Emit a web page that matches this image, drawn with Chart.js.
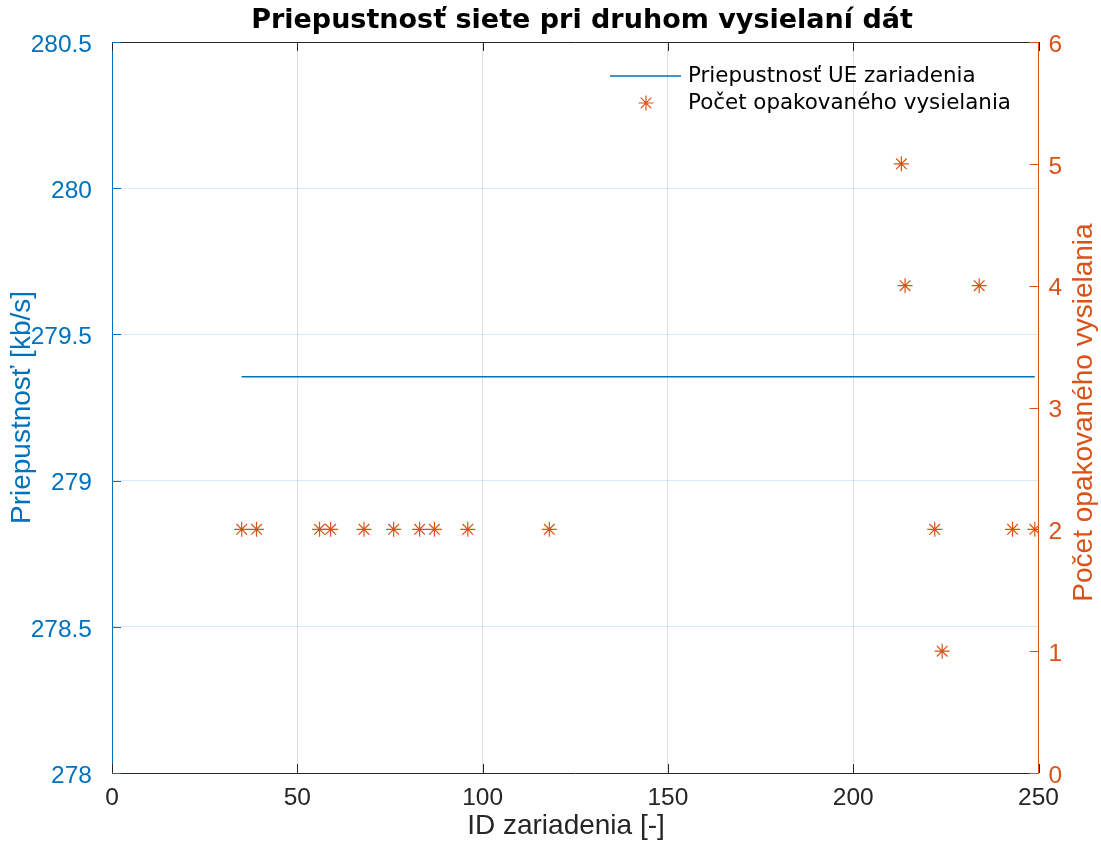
<!DOCTYPE html>
<html>
<head>
<meta charset="utf-8">
<script src="https://cdn.jsdelivr.net/npm/chart.js@4.4.1/dist/chart.umd.min.js"></script>
<style>
  html, body { margin: 0; padding: 0; background: #ffffff; }
  #wrap { width: 1101px; height: 841px; }
</style>
</head>
<body>
<div id="wrap"><canvas id="chart" width="1101" height="841"></canvas></div>
<script>
// Device IDs and per-device measurements
const deviceIds = [35, 39, 56, 59, 68, 76, 83, 87, 96, 118, 213, 214, 222, 224, 234, 243, 249];
const throughputKbps = [279.355, 279.355, 279.355, 279.355, 279.355, 279.355, 279.355, 279.355, 279.355,
                        279.355, 279.355, 279.355, 279.355, 279.355, 279.355, 279.355, 279.355];
const retransmissions = [2, 2, 2, 2, 2, 2, 2, 2, 2, 2, 5, 4, 2, 1, 4, 2, 2];

// Axis ranges and tick steps
const xRange = [0, 250], xStep = 50;
const leftRange = [278, 280.5], leftStep = 0.5;
const rightRange = [0, 6], rightStep = 1;

const CHART_TITLE = 'Priepustnosť siete pri druhom vysielaní dát';

const BLUE = '#0072BD';
const ORANGE = '#D95319';
const DARK = '#262626';
const SANS = '"Liberation Sans", Arial, sans-serif';
const TICK_FONT = { family: SANS, size: 24.5 };
const LABEL_FONT = { family: SANS, size: 28 };

const throughputPoints = deviceIds.map((id, i) => ({ x: id, y: throughputKbps[i] }));
const retransPoints = deviceIds.map((id, i) => ({ x: id, y: retransmissions[i] }));

// Title, inward tick marks, top frame line, x and right axis titles, in-plot legend
const framePlugin = {
  id: 'frame',
  afterDraw(chart) {
    const ctx = chart.ctx;
    const a = chart.chartArea;
    const L = 9;
    const xs = chart.scales.x, yl = chart.scales.y, yr = chart.scales.y1;
    ctx.save();
    // title centred over the plot area
    ctx.fillStyle = '#000000';
    ctx.font = 'bold 27px "DejaVu Sans", sans-serif';
    ctx.textAlign = 'center';
    ctx.textBaseline = 'middle';
    ctx.fillText(CHART_TITLE, 582, 21);

    ctx.lineWidth = 1;
    // top frame
    ctx.strokeStyle = DARK;
    ctx.beginPath();
    ctx.moveTo(a.left, a.top + 0.5);
    ctx.lineTo(a.right, a.top + 0.5);
    ctx.stroke();
    // x ticks (bottom and top)
    xs.ticks.forEach(t => {
      const px = Math.round(xs.getPixelForValue(t.value)) + 0.5;
      ctx.beginPath();
      ctx.moveTo(px, a.bottom); ctx.lineTo(px, a.bottom - L);
      ctx.moveTo(px, a.top); ctx.lineTo(px, a.top + L);
      ctx.stroke();
    });
    // left ticks
    ctx.strokeStyle = BLUE;
    yl.ticks.forEach(t => {
      const py = Math.round(yl.getPixelForValue(t.value)) + 0.5;
      ctx.beginPath();
      ctx.moveTo(a.left, py); ctx.lineTo(a.left + L, py);
      ctx.stroke();
    });
    // right ticks
    ctx.strokeStyle = ORANGE;
    yr.ticks.forEach(t => {
      const py = Math.round(yr.getPixelForValue(t.value)) + 0.5;
      ctx.beginPath();
      ctx.moveTo(a.right, py); ctx.lineTo(a.right - L, py);
      ctx.stroke();
    });
    ctx.font = `${LABEL_FONT.size}px ${LABEL_FONT.family}`;
    // x axis title
    ctx.fillStyle = DARK;
    ctx.fillText(xs.options.title.text, 566, 826);
    // right axis title, reading bottom to top
    ctx.fillStyle = ORANGE;
    ctx.translate(1084, (a.top + a.bottom) / 2 + 5);
    ctx.rotate(-Math.PI / 2);
    ctx.fillText(yr.options.title.text, 0, 0);
    ctx.restore();

    // legend inside the plot, top right
    const ds = chart.data.datasets;
    ctx.save();
    ctx.font = '21.4px "DejaVu Sans", sans-serif';
    ctx.fillStyle = '#000000';
    ctx.textAlign = 'left';
    ctx.textBaseline = 'middle';
    const textX = 688;
    const rows = [76, 103];
    // line sample
    ctx.strokeStyle = ds[0].borderColor;
    ctx.lineWidth = ds[0].borderWidth;
    ctx.beginPath();
    ctx.moveTo(610, rows[0]); ctx.lineTo(681, rows[0]);
    ctx.stroke();
    ctx.fillText(ds[0].label, textX, rows[0]);
    // marker sample
    ctx.strokeStyle = ORANGE;
    ctx.fillStyle = ORANGE;
    ctx.lineWidth = ds[1].pointBorderWidth;
    Chart.helpers.drawPoint(ctx, {
      pointStyle: 'star', radius: ds[1].pointRadius, borderWidth: ds[1].pointBorderWidth, rotation: 0
    }, 646, rows[1]);
    ctx.fillStyle = '#000000';
    ctx.fillText(ds[1].label, textX, rows[1]);
    ctx.restore();
  }
};

new Chart(document.getElementById('chart'), {
  type: 'line',
  data: {
    datasets: [
      {
        label: 'Priepustnosť UE zariadenia',
        data: throughputPoints,
        yAxisID: 'y',
        borderColor: BLUE,
        backgroundColor: BLUE,
        borderWidth: 1.5,
        pointRadius: 0,
        fill: false,
        tension: 0
      },
      {
        label: 'Počet opakovaného vysielania',
        data: retransPoints,
        yAxisID: 'y1',
        showLine: false,
        pointStyle: 'star',
        pointRadius: 7.5,
        pointHoverRadius: 7.5,
        pointBorderWidth: 1.2,
        borderColor: ORANGE,
        backgroundColor: ORANGE
      }
    ]
  },
  options: {
    responsive: false,
    animation: false,
    events: [],
    layout: { padding: { top: 42 } },
    plugins: {
      legend: { display: false },
      tooltip: { enabled: false },
      title: { display: false }
    },
    scales: {
      x: {
        type: 'linear',
        position: 'bottom',
        min: xRange[0], max: xRange[1],
        afterFit(s) { s.height = 68; },
        afterBuildTicks(s) {
          s.ticks = [];
          for (let v = xRange[0]; v <= xRange[1]; v += xStep) s.ticks.push({ value: v });
        },
        ticks: { color: DARK, font: TICK_FONT, padding: 11, maxRotation: 0 },
        grid: { color: 'rgba(38,38,38,0.15)', drawTicks: false, lineWidth: 1 },
        border: { color: DARK, width: 1 },
        title: { display: false, text: 'ID zariadenia [-]' }
      },
      y: {
        type: 'linear',
        position: 'left',
        min: leftRange[0], max: leftRange[1],
        afterFit(s) { s.width = 112; },
        afterBuildTicks(s) {
          s.ticks = [];
          for (let v = leftRange[0]; v <= leftRange[1] + 1e-9; v += leftStep) s.ticks.push({ value: +v.toFixed(1) });
        },
        ticks: { color: BLUE, font: TICK_FONT, padding: 20, labelOffset: 3, callback: v => String(v) },
        grid: { color: 'rgba(0,114,189,0.15)', drawTicks: false, lineWidth: 1 },
        border: { color: BLUE, width: 1 },
        title: {
          display: true, text: 'Priepustnosť [kb/s]', color: BLUE, font: LABEL_FONT,
          padding: { top: 5, bottom: 0 }
        }
      },
      y1: {
        type: 'linear',
        position: 'right',
        min: rightRange[0], max: rightRange[1],
        afterFit(s) { s.width = 62.5; },
        afterBuildTicks(s) {
          s.ticks = [];
          for (let v = rightRange[0]; v <= rightRange[1]; v += rightStep) s.ticks.push({ value: v });
        },
        ticks: { color: ORANGE, font: TICK_FONT, padding: 10, labelOffset: 3 },
        grid: { display: false, drawTicks: false },
        border: { color: ORANGE, width: 1 },
        title: { display: false, text: 'Počet opakovaného vysielania' }
      }
    }
  },
  plugins: [framePlugin]
});
</script>
</body>
</html>
